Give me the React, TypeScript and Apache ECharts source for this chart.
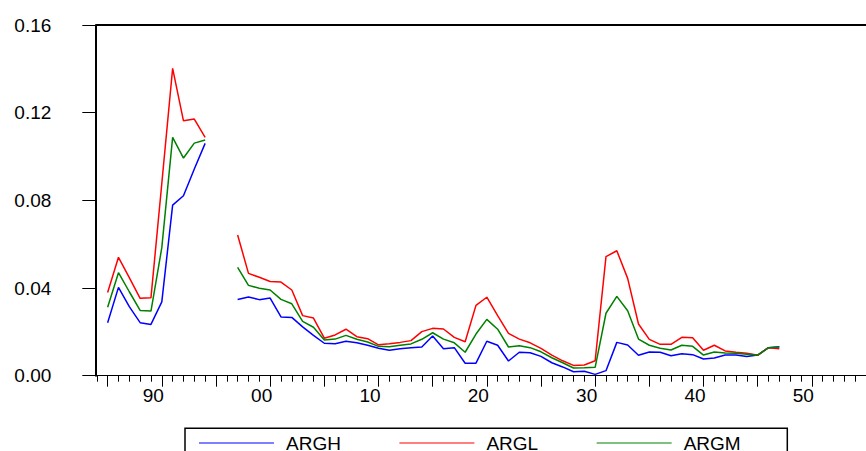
import React, { useEffect, useRef } from "react";
import * as echarts from "echarts";

// Observation years 1985..2047 (1995 and 1996 missing)
const FIRST_YEAR = 1985;
const AXIS_START = 1984;
const AXIS_END = 2055;

const ARGH: (number | null)[] = [
  0.0242, 0.0403, 0.0315, 0.0242, 0.0234, 0.0337, 0.0778, 0.0821, 0.0943, 0.1060,
  null, null,
  0.0348, 0.0359, 0.0347, 0.0354, 0.0268, 0.0266, 0.0223, 0.0184, 0.0148, 0.0146,
  0.0157, 0.0150, 0.0139, 0.0125, 0.0116, 0.0123, 0.0128, 0.0131, 0.0181, 0.0123,
  0.0128, 0.0057, 0.0057, 0.0157, 0.0139, 0.0067, 0.0107, 0.0105, 0.0088, 0.0059,
  0.0040, 0.0018, 0.0020, 0.0006, 0.0023, 0.0152, 0.0140, 0.0093, 0.0108, 0.0107,
  0.0091, 0.0100, 0.0096, 0.0076, 0.0081, 0.0094, 0.0094, 0.0088, 0.0094, 0.0128,
  0.0132,
];

const ARGL: (number | null)[] = [
  0.0380, 0.0540, 0.0447, 0.0353, 0.0356, 0.0877, 0.1402, 0.1163, 0.1171, 0.1087,
  null, null,
  0.0642, 0.0467, 0.0449, 0.0430, 0.0427, 0.0391, 0.0274, 0.0263, 0.0171, 0.0186,
  0.0212, 0.0178, 0.0169, 0.0141, 0.0146, 0.0152, 0.0160, 0.0201, 0.0216, 0.0213,
  0.0175, 0.0155, 0.0321, 0.0358, 0.0274, 0.0193, 0.0167, 0.0150, 0.0125, 0.0094,
  0.0068, 0.0047, 0.0049, 0.0068, 0.0543, 0.0570, 0.0444, 0.0236, 0.0166, 0.0143,
  0.0143, 0.0175, 0.0173, 0.0116, 0.0139, 0.0113, 0.0107, 0.0102, 0.0093, 0.0128,
  0.0123,
];

const ARGM: (number | null)[] = [
  0.0312, 0.0470, 0.0383, 0.0298, 0.0295, 0.0584, 0.1087, 0.0993, 0.1061, 0.1075,
  null, null,
  0.0494, 0.0412, 0.0399, 0.0391, 0.0348, 0.0328, 0.0248, 0.0221, 0.0163, 0.0167,
  0.0184, 0.0166, 0.0154, 0.0134, 0.0132, 0.0139, 0.0145, 0.0166, 0.0196, 0.0167,
  0.0150, 0.0107, 0.0190, 0.0257, 0.0212, 0.0131, 0.0137, 0.0128, 0.0109, 0.0082,
  0.0059, 0.0035, 0.0036, 0.0038, 0.0285, 0.0362, 0.0296, 0.0167, 0.0139, 0.0125,
  0.0117, 0.0139, 0.0134, 0.0094, 0.0108, 0.0104, 0.0102, 0.0098, 0.0094, 0.0128,
  0.0131,
];

const Y_TICKS = [0, 0.04, 0.08, 0.12, 0.16];

const FONT = 'Arial, "Liberation Sans", sans-serif';

function buildCategories(): string[] {
  const out: string[] = [];
  for (let y = AXIS_START; y <= AXIS_END; y++) out.push(String(y));
  return out;
}

function padSeries(vals: (number | null)[], cats: string[]): (number | null)[] {
  return cats.map((c) => {
    const idx = Number(c) - FIRST_YEAR;
    return idx >= 0 && idx < vals.length ? vals[idx] : null;
  });
}

export default function App() {
  const ref = useRef<HTMLDivElement>(null);

  useEffect(() => {
    if (!ref.current) return;
    const chart = echarts.init(ref.current, undefined, { renderer: "svg" });
    const cats = buildCategories();
    const gridRect = { left: 96.8, top: 25, width: 779.8, height: 350.7 };

    const option: any = {
      animation: false,
      backgroundColor: "#fff",
      textStyle: { fontFamily: FONT },
      grid: [
        { ...gridRect, containLabel: false },
        { ...gridRect, containLabel: false },
      ],
      xAxis: [
        {
          gridIndex: 0,
          type: "category",
          data: cats,
          boundaryGap: false,
          position: "bottom",
          axisLine: { show: true, lineStyle: { color: "#000", width: 1 } },
          axisTick: { show: true, length: 6, interval: 0, lineStyle: { color: "#000", width: 1 } },
          axisLabel: {
            show: true,
            interval: (_i: number, v: string) => Number(v) % 10 === 0,
            formatter: (v: string) => v.slice(2),
            color: "#000",
            fontSize: 19,
            fontFamily: FONT,
            margin: 10,
            padding: [0, 17, 0, 0],
          },
          splitLine: { show: false },
        },
        {
          gridIndex: 0,
          type: "category",
          data: cats,
          boundaryGap: false,
          position: "top",
          axisLine: { show: true, lineStyle: { color: "#000", width: 2 } },
          axisTick: { show: false },
          axisLabel: { show: false },
          splitLine: { show: false },
        },
        {
          gridIndex: 1,
          type: "category",
          data: cats,
          boundaryGap: false,
          position: "bottom",
          axisLine: { show: false },
          axisTick: {
            show: true,
            length: 11,
            interval: (_i: number, v: string) => Number(v) % 5 === 0,
            lineStyle: { color: "#000", width: 1 },
          },
          axisLabel: { show: false },
          splitLine: { show: false },
        },
      ],
      yAxis: [
        {
          gridIndex: 0,
          type: "value",
          min: Y_TICKS[0],
          max: Y_TICKS[Y_TICKS.length - 1],
          interval: 0.04,
          offset: 1.5,
          axisLine: { show: true, lineStyle: { color: "#000", width: 2 } },
          axisTick: { show: true, length: 13, inside: false, lineStyle: { color: "#000", width: 1 } },
          axisLabel: {
            color: "#000",
            fontSize: 19,
            fontFamily: FONT,
            margin: 44,
            formatter: (v: number) => v.toFixed(2),
          },
          splitLine: { show: false },
        },
        {
          gridIndex: 1,
          type: "value",
          min: 0,
          max: 0.16,
          show: false,
        },
      ],
      legend: {
        left: 199,
        top: 433.5,
        padding: 0,
        icon: "rect",
        itemWidth: 75,
        itemHeight: 1,
        itemGap: 58.5,
        textStyle: { fontSize: 19, color: "#000", fontFamily: FONT, padding: [0, 0, 0, 7] },
        data: ["ARGH", "ARGL", "ARGM"],
      },
      graphic: [
        {
          type: "rect",
          shape: { x: 185, y: 428.3, width: 602.3, height: 40 },
          style: { fill: "none", stroke: "#000", lineWidth: 1.5 },
          silent: true,
        },
      ],
      series: [
        {
          name: "ARGH",
          type: "line",
          xAxisIndex: 0,
          yAxisIndex: 0,
          data: padSeries(ARGH, cats),
          symbol: "none",
          connectNulls: false,
          lineStyle: { color: "#0000FF", width: 1.5 },
          itemStyle: { color: "#0000FF" },
        },
        {
          name: "ARGL",
          type: "line",
          xAxisIndex: 0,
          yAxisIndex: 0,
          data: padSeries(ARGL, cats),
          symbol: "none",
          connectNulls: false,
          lineStyle: { color: "#FF0000", width: 1.5 },
          itemStyle: { color: "#FF0000" },
        },
        {
          name: "ARGM",
          type: "line",
          xAxisIndex: 0,
          yAxisIndex: 0,
          data: padSeries(ARGM, cats),
          symbol: "none",
          connectNulls: false,
          lineStyle: { color: "#008000", width: 1.5 },
          itemStyle: { color: "#008000" },
        },
      ],
    };

    chart.setOption(option);
    return () => chart.dispose();
  }, []);

  return (
    <div
      ref={ref}
      style={{ position: "fixed", left: 0, top: 0, width: 866, height: 451, overflow: "hidden" }}
    />
  );
}
